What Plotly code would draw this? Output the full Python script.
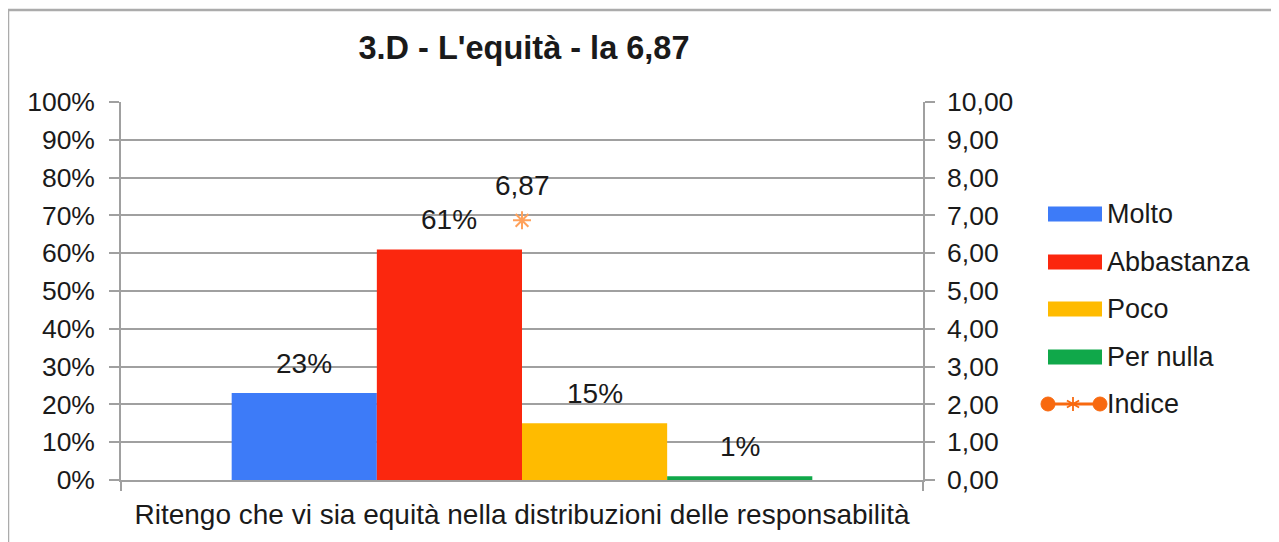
import math
import plotly.graph_objects as go

# ---------------- data ----------------
categories = ["Ritengo che vi sia equità nella distribuzioni delle responsabilità"]
series_names = ["Molto", "Abbastanza", "Poco", "Per nulla"]
series_values = [0.23, 0.61, 0.15, 0.01]
series_colors = ["#3d7bf8", "#fb270e", "#ffbb00", "#10a84a"]
index_name = "Indice"
index_values = [6.87]
index_labels = ["6,87"]
index_color = "#f8690f"
left_ticks = [0, 0.1, 0.2, 0.3, 0.4, 0.5, 0.6, 0.7, 0.8, 0.9, 1.0]
right_ticks = [0, 1, 2, 3, 4, 5, 6, 7, 8, 9, 10]
right_ticklabels = ["0,00", "1,00", "2,00", "3,00", "4,00", "5,00",
                    "6,00", "7,00", "8,00", "9,00", "10,00"]
title_text = "3.D - L'equità - la 6,87"

# ---------------- layout geometry ----------------
OFF = 8                      # browser default body margin
W, H = 1279 - OFF, 542 - OFF
PL, PR, PT, PB = 121 - OFF, 923 - OFF, 102 - OFF, 480 - OFF   # plot area in figure pixels
BARGAP = 0.276
FONT = "Liberation Sans, Arial, sans-serif"
TXT = "#1a1a1a"
GRID = "#a0a0a0"


def px(x):
    """screen x (reference image) -> paper"""
    return (x - OFF - PL) / (PR - PL)


def py(y):
    """screen y (reference image) -> paper"""
    return (PB - (y - OFF)) / (PB - PT)


fig = go.Figure()

for name, val, col in zip(series_names, series_values, series_colors):
    fig.add_trace(go.Bar(x=categories, y=[val], name=name, marker_color=col,
                         marker_line_width=0, showlegend=False))

fig.add_trace(go.Scatter(x=categories, y=index_values, name=index_name, yaxis="y2",
                         mode="markers", showlegend=False,
                         marker=dict(symbol="asterisk-open", size=15,
                                     line=dict(color=index_color, width=2))))

annotations = []
n = len(series_names)
gw = 1 - BARGAP
for i, val in enumerate(series_values):
    cx = -gw / 2 + (i + 0.5) * gw / n
    annotations.append(dict(x=cx, y=val, xref="x", yref="y", text=f"{round(val * 100)}%",
                            showarrow=False, yanchor="bottom", yshift=12,
                            font=dict(size=28, color=TXT, family=FONT)))
for c, v, lab in zip(categories, index_values, index_labels):
    annotations.append(dict(x=0, y=v, xref="x", yref="y2", text=lab, showarrow=False,
                            yanchor="bottom", yshift=17,
                            font=dict(size=28, color=TXT, family=FONT)))

shapes = []
# chart frame (spreadsheet chart border)
shapes.append(dict(type="line", xref="paper", yref="paper", x0=px(8), x1=px(1290),
                   y0=py(10), y1=py(10), line=dict(color="#ababab", width=2.5)))
shapes.append(dict(type="line", xref="paper", yref="paper", x0=px(8), x1=px(8),
                   y0=py(10), y1=py(560), line=dict(color="#ababab", width=2.5)))

# custom legend
leg_y = [214, 262, 309, 357, 404]
for name, col, ly in zip(series_names, series_colors, leg_y):
    shapes.append(dict(type="rect", xref="paper", yref="paper", x0=px(1048), x1=px(1102),
                       y0=py(ly - 7.5), y1=py(ly + 7.5), fillcolor=col, line=dict(width=0)))
    annotations.append(dict(x=px(1105), y=py(ly), xref="paper", yref="paper", text=name,
                            showarrow=False, xanchor="left", yanchor="middle",
                            font=dict(size=27, color=TXT, family=FONT)))
ly = leg_y[-1]
shapes.append(dict(type="line", xref="paper", yref="paper", x0=px(1042), x1=px(1102),
                   y0=py(ly), y1=py(ly), line=dict(color=index_color, width=3)))
for cx in [1048, 1100]:
    shapes.append(dict(type="circle", xref="paper", yref="paper", x0=px(cx - 7), x1=px(cx + 7),
                       y0=py(ly - 7), y1=py(ly + 7), fillcolor=index_color,
                       line=dict(color=index_color, width=1)))
for ang in [90, 30, 150]:
    dx = 7 * math.cos(math.radians(ang))
    dy = 7 * math.sin(math.radians(ang))
    shapes.append(dict(type="line", xref="paper", yref="paper", x0=px(1073 - dx), x1=px(1073 + dx),
                       y0=py(ly - dy), y1=py(ly + dy), line=dict(color=index_color, width=1.8)))
annotations.append(dict(x=px(1105), y=py(ly), xref="paper", yref="paper", text=index_name,
                        showarrow=False, xanchor="left", yanchor="middle",
                        font=dict(size=27, color=TXT, family=FONT)))

fig.update_layout(
    width=W, height=H,
    margin=dict(l=PL, r=W - PR, t=PT, b=H - PB, pad=0),
    paper_bgcolor="white", plot_bgcolor="white",
    barmode="group", bargap=BARGAP, bargroupgap=0,
    font=dict(family=FONT, color=TXT),
    title=dict(text=f"<b>{title_text}</b>", x=(524 - OFF) / W, xref="container", xanchor="center",
               y=1 - (48 - OFF) / H, yref="container", yanchor="middle",
               font=dict(size=32.5, color=TXT, family=FONT)),
    showlegend=False,
    xaxis=dict(showline=True, linecolor=GRID, linewidth=1.5, ticks="outside",
               tickson="boundaries", ticklen=9, tickcolor=GRID, tickwidth=1.5,
               tickfont=dict(size=28, color=TXT), ticklabelstandoff=9,
               showgrid=False, fixedrange=True),
    yaxis=dict(range=[0, 1], tickvals=left_ticks, tickformat=".0%", showgrid=True,
               gridcolor=GRID, gridwidth=1.5, zeroline=False, showline=True,
               linecolor=GRID, linewidth=1.5, ticks="outside", ticklen=10,
               tickcolor=GRID, tickwidth=1.5, tickfont=dict(size=26.5, color=TXT),
               ticklabelstandoff=9),
    yaxis2=dict(range=[0, 10], overlaying="y", side="right", tickvals=right_ticks,
                ticktext=right_ticklabels, showgrid=False, zeroline=False, showline=True,
                linecolor=GRID, linewidth=1.5, ticks="outside", ticklen=10,
                tickcolor=GRID, tickwidth=1.5, tickfont=dict(size=26.5, color=TXT),
                ticklabelstandoff=7),
    annotations=annotations,
    shapes=shapes,
)

fig.write_html("out.html")
